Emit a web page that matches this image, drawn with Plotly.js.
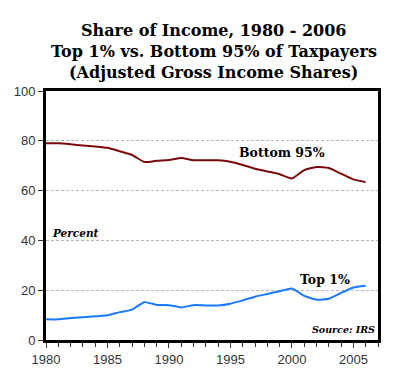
<!DOCTYPE html>
<html><head><meta charset="utf-8">
<script src="https://cdn.plot.ly/plotly-3.0.1.min.js"></script>
<style>body{margin:0;background:#fff}#c{width:400px;height:372px}</style>
</head><body><div id="c"></div>
<script>
const years = [1980,1981,1982,1983,1984,1985,1986,1987,1988,1989,1990,1991,1992,1993,1994,1995,1996,1997,1998,1999,2000,2001,2002,2003,2004,2005,2006];
const bottom95 = [79.0,79.0,78.6,78.1,77.7,77.2,75.8,74.3,71.5,72.0,72.3,73.1,72.2,72.2,72.2,71.6,70.3,68.8,67.7,66.6,64.9,68.2,69.5,69.1,66.8,64.5,63.4];
const top1 = [8.3,8.3,8.8,9.1,9.5,9.9,11.2,12.2,15.2,14.1,14.0,13.1,14.0,13.9,13.9,14.6,15.9,17.4,18.5,19.6,20.7,17.7,16.2,16.6,18.9,21.1,21.8];
const titleLines = ["Share of Income, 1980 - 2006","Top 1% vs. Bottom 95% of Taxpayers","(Adjusted Gross Income Shares)"];
const titleY = [1.243, 1.158, 1.073];
const serif = "DejaVu Serif";
const data = [
  {x: years, y: bottom95, type:'scatter', mode:'lines', line:{color:'#7a0a0a', width:2, shape:'spline', smoothing:0.5}, hoverinfo:'skip'},
  {x: years, y: top1, type:'scatter', mode:'lines', line:{color:'#1a7aff', width:2, shape:'spline', smoothing:0.5}, hoverinfo:'skip'}
];
const ann = [
  {x:1995.5, y:75.3, xref:'x', yref:'y', text:'Bottom 95%', showarrow:false, xanchor:'left', font:{family:serif, size:12.5, color:'#000', weight:'bold'}},
  {x:2000.5, y:24.5, xref:'x', yref:'y', text:'Top 1%', showarrow:false, xanchor:'left', font:{family:serif, size:12.5, color:'#000', weight:'bold'}},
  {x:1980.3, y:43, xref:'x', yref:'y', text:'<i>Percent</i>', showarrow:false, xanchor:'left', font:{family:serif, size:10.5, color:'#000', weight:'bold'}},
  {x:2006.9, y:4.3, xref:'x', yref:'y', text:'<i>Source: IRS</i>', showarrow:false, xanchor:'right', font:{family:serif, size:9.5, color:'#000', weight:'bold'}}
];
titleLines.forEach((t,i)=>ann.push({x:0.505, y:titleY[i], xref:'paper', yref:'paper', text:t, showarrow:false, xanchor:'center', yanchor:'middle',
  font:{family:serif, size:16, color:'#000', weight:'bold'}}));
const layout = {
  width:400, height:372, showlegend:false,
  paper_bgcolor:'#fff', plot_bgcolor:'#fff',
  margin:{l:46, r:22, t:91, b:32},
  xaxis:{range:[1980,2007], tickvals:[1980,1985,1990,1995,2000,2005], ticks:'outside', ticklen:5, tickwidth:1, tickcolor:'#333',
    minor:{dtick:1, tick0:1980, ticks:'outside', ticklen:4, tickcolor:'#333', showgrid:false},
    showline:true, linewidth:3, linecolor:'#000', mirror:true, showgrid:false, zeroline:false,
    tickfont:{family:'Liberation Sans', size:13, color:'#333'}},
  yaxis:{range:[0,100], tickvals:[0,20,40,60,80,100], ticks:'outside', ticklen:5, tickwidth:1, tickcolor:'#333',
    showline:true, linewidth:3, linecolor:'#000', mirror:true, zeroline:false,
    showgrid:true, gridcolor:'#b8b8b8', griddash:'3px,2px', gridwidth:1,
    tickfont:{family:'Liberation Sans', size:13, color:'#333'}},
  annotations: ann
};
Plotly.newPlot('c', data, layout, {staticPlot:true, displayModeBar:false});
</script></body></html>
